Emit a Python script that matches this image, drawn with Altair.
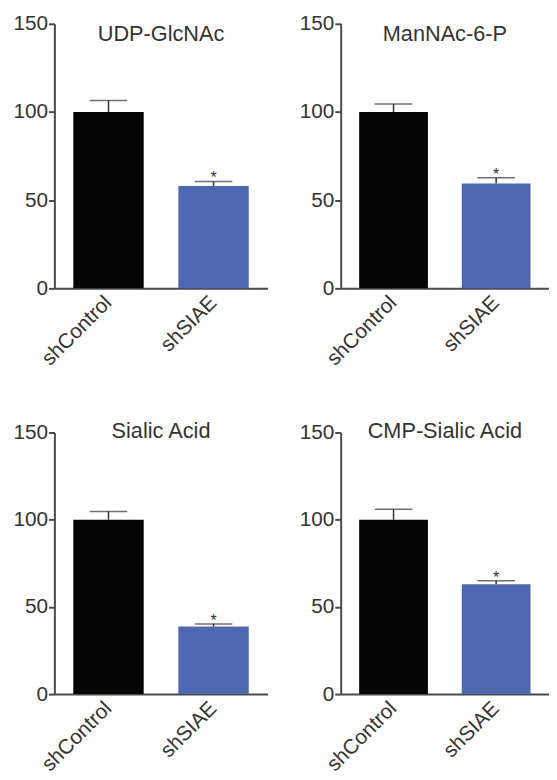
import altair as alt
import pandas as pd

panels = ["UDP-GlcNAc", "ManNAc-6-P", "Sialic Acid", "CMP-Sialic Acid"]
groups = ["shControl", "shSIAE"]
control_mean = [100, 100, 100, 100]
control_sem = [6.5, 4.5, 4.7, 6.0]
siae_mean = [58, 59.5, 38.7, 63]
siae_sem = [2.6, 3.2, 1.5, 2.0]
signif = ["*", "*", "*", "*"]
y_ticks = [0, 50, 100, 150]
bar_colors = ["#050505", "#4f67b0"]

FONT = "Liberation Sans"
AXIS_COLOR = "#4a4a4a"
TEXT_COLOR = "#333333"


def panel(i, width, height, title_y):
    df = pd.DataFrame({
        "group": groups,
        "mean": [control_mean[i], siae_mean[i]],
        "sem": [control_sem[i], siae_sem[i]],
        "sig": ["", signif[i]],
    })
    df["upper"] = df["mean"] + df["sem"]
    xenc = alt.X(
        "group:N", sort=groups,
        scale=alt.Scale(paddingInner=0.33, paddingOuter=0.18),
        axis=alt.Axis(title=None, labelAngle=-45, labelAlign="right",
                      labelBaseline="middle", ticks=False, labelPadding=11),
    )
    yscale = alt.Scale(domain=[0, 150], nice=False)
    base = alt.Chart(df).encode(x=xenc)
    bars = base.mark_bar().encode(
        y=alt.Y("mean:Q", scale=yscale,
                axis=alt.Axis(values=y_ticks, title=None, tickSize=6, labelPadding=1)),
        color=alt.Color("group:N", scale=alt.Scale(domain=groups, range=bar_colors), legend=None),
    )
    err = base.mark_rule(color=TEXT_COLOR, strokeWidth=1.5).encode(
        y=alt.Y("mean:Q"), y2="upper:Q")
    cap = base.mark_tick(color=TEXT_COLOR, thickness=1.5, size=38).encode(
        y=alt.Y("upper:Q"))
    star = base.mark_text(font=FONT, fontSize=16, dy=2, baseline="alphabetic",
                          color=TEXT_COLOR).encode(y=alt.Y("upper:Q"), text="sig:N")
    title = alt.Chart(pd.DataFrame({"name": [panels[i]]})).mark_text(
        font=FONT, fontSize=22, color=TEXT_COLOR, baseline="middle", align="center"
    ).encode(x=alt.value(width / 2), y=alt.value(title_y), text="name:N")
    return alt.layer(bars, err, cap, star, title).properties(width=width, height=height)


top = alt.hconcat(panel(0, 216, 268, 10), panel(1, 211, 268, 10), spacing=31)
bottom = alt.hconcat(panel(2, 216, 265, -1), panel(3, 211, 265, -1), spacing=31)

chart = alt.vconcat(top, bottom, spacing=52).properties(
    padding={"left": 4, "top": 0, "right": 0, "bottom": 0}
).configure_view(stroke=None).configure_axis(
    labelFont=FONT, labelFontSize=21, labelColor=TEXT_COLOR,
    domainColor=AXIS_COLOR, domainWidth=2, tickColor=AXIS_COLOR, tickWidth=2,
    grid=False,
)

chart.save("out.html", embed_options={"renderer": "svg", "actions": False})
